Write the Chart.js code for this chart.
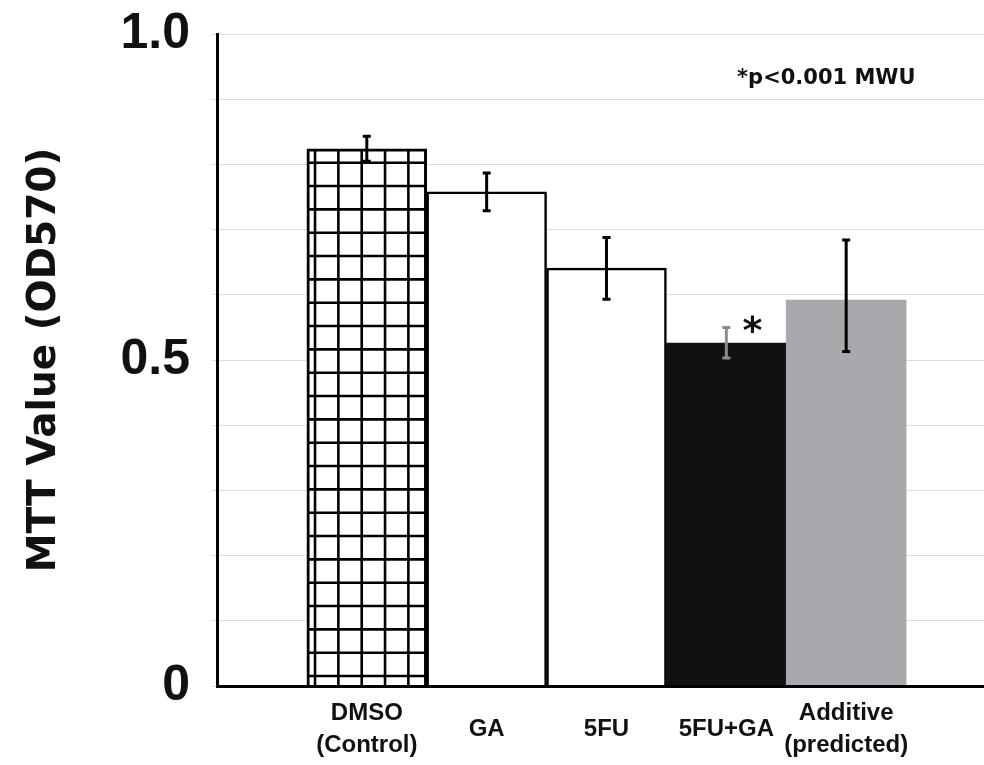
<!DOCTYPE html>
<html>
<head>
<meta charset="utf-8">
<title>MTT Value (OD570)</title>
<script src="https://cdn.jsdelivr.net/npm/chart.js@4.4.0/dist/chart.umd.min.js"></script>
<style>
  html, body { margin: 0; padding: 0; background: #fff; overflow: hidden; }
  #wrap { width: 984px; height: 765px; position: relative; }
</style>
</head>
<body>
<div id="wrap"><canvas id="mttChart"></canvas></div>
<script>
// Values
const categories = [['DMSO', '(Control)'], 'GA', '5FU', '5FU+GA', ['Additive', '(predicted)']];
const mttValues = [0.824, 0.758, 0.641, 0.526, 0.592];
const errHigh = [0.843, 0.787, 0.688, 0.550, 0.684];
const errLow = [0.805, 0.729, 0.593, 0.503, 0.513];
const sigMarks = ['', '', '', '*', ''];
const yTickValues = [0, 0.5, 1.0];
const yTickLabels = ['0', '0.5', '1.0'];
const noteText = '*p<0.001 MWU';

// Cross-hatch fill for the control bar
function makeGridPattern() {
    const size = 70;
    const step = size / 3;
    const c = document.createElement('canvas');
    c.width = size;
    c.height = size;
    const g = c.getContext('2d');
    g.fillStyle = '#fff';
    g.fillRect(0, 0, size, size);
    g.strokeStyle = '#000';
    g.lineWidth = 2.6;
    for (let k = -1; k <= 3; k++) {
        const x = 11.7 + k * step;
        const y = 22.7 + k * step;
        g.beginPath(); g.moveTo(x, -5); g.lineTo(x, size + 5); g.stroke();
        g.beginPath(); g.moveTo(-5, y); g.lineTo(size + 5, y); g.stroke();
    }
    return g.createPattern(c, 'repeat');
}

// Error bars, significance mark and the p-value note
const errorBars = {
    id: 'errorBars',
    afterDatasetsDraw(chart) {
        const { ctx, scales: { x, y } } = chart;
        const meta = chart.getDatasetMeta(0);
        ctx.save();
        meta.data.forEach((bar, i) => {
            const top = y.getPixelForValue(errHigh[i]);
            const bot = y.getPixelForValue(errLow[i]);
            ctx.strokeStyle = i === 3 ? '#8c8c8c' : '#000';
            ctx.lineWidth = 3;
            ctx.beginPath();
            ctx.moveTo(bar.x, top); ctx.lineTo(bar.x, bot);
            ctx.moveTo(bar.x - 4, top); ctx.lineTo(bar.x + 4, top);
            ctx.moveTo(bar.x - 4, bot); ctx.lineTo(bar.x + 4, bot);
            ctx.stroke();
            if (sigMarks[i]) {
                ctx.fillStyle = '#111';
                ctx.font = 'bold 38px "DejaVu Sans"';
                ctx.textAlign = 'center';
                ctx.textBaseline = 'alphabetic';
                ctx.fillText(sigMarks[i], bar.x + 26, y.getPixelForValue(mttValues[i]));
            }
        });
        ctx.fillStyle = '#111';
        ctx.font = 'bold 21px "DejaVu Sans"';
        ctx.textAlign = 'left';
        ctx.textBaseline = 'middle';
        ctx.fillText(noteText, x.getPixelForValue(3.09), y.getPixelForValue(0.932));
        ctx.restore();
    }
};

const gridPattern = makeGridPattern();

new Chart(document.getElementById('mttChart'), {
    type: 'bar',
    data: {
        datasets: [{
            data: mttValues.map((v, i) => ({ x: i, y: v })),
            backgroundColor: [gridPattern, '#fff', '#fff', '#111', '#a9a8ad'],
            borderColor: ['#000', '#000', '#000', '#111', '#a9a8ad'],
            borderWidth: [3, 2.5, 2.5, 0, 0],
            categoryPercentage: 1,
            barPercentage: 1
        }]
    },
    options: {
        responsive: true,
        maintainAspectRatio: false,
        animation: false,
        layout: { padding: { top: 34, left: 0, right: 0, bottom: 0 } },
        plugins: {
            legend: { display: false },
            tooltip: { enabled: false }
        },
        scales: {
            x: {
                type: 'linear',
                min: -1.25,
                max: 5.15,
                offset: false,
                bounds: 'data',
                grid: { display: false, drawTicks: false, offset: false },
                border: { color: '#000', width: 3, z: 1 },
                ticks: {
                    autoSkip: false,
                    maxRotation: 0,
                    crossAlign: 'center',
                    padding: 27,
                    color: '#111',
                    font: { family: '"Liberation Sans", Arial, sans-serif', weight: 'bold', size: 24, lineHeight: 1.34 },
                    callback: v => (Number.isInteger(v) && v >= 0 && v < categories.length) ? categories[v] : ''
                },
                // one tick per category
                afterBuildTicks: s => { s.ticks = categories.map((c, i) => ({ value: i })); },
                afterFit: s => { s.height = 79; s.paddingLeft = 0; s.paddingRight = 0; }
            },
            y: {
                min: 0,
                max: 1,
                grid: { color: 'rgba(0,0,0,0.14)', lineWidth: 1, tickLength: 5 },
                border: { color: '#000', width: 3, z: 1 },
                ticks: {
                    stepSize: 0.1,
                    autoSkip: false,
                    padding: 22,
                    color: '#111',
                    font: { family: '"Liberation Sans", Arial, sans-serif', weight: 'bold', size: 50 },
                    callback: v => {
                        const i = yTickValues.findIndex(t => Math.abs(t - v) < 1e-6);
                        return i >= 0 ? yTickLabels[i] : '';
                    }
                },
                title: {
                    display: true,
                    text: 'MTT Value (OD570)',
                    color: '#111',
                    font: { family: '"DejaVu Sans", sans-serif', weight: 'bold', size: 39 },
                    padding: { top: 21, bottom: 0 }
                },
                afterFit: s => { s.width = 217; s.paddingTop = 0; s.paddingBottom = 0; }
            }
        }
    },
    plugins: [errorBars]
});
</script>
</body>
</html>
